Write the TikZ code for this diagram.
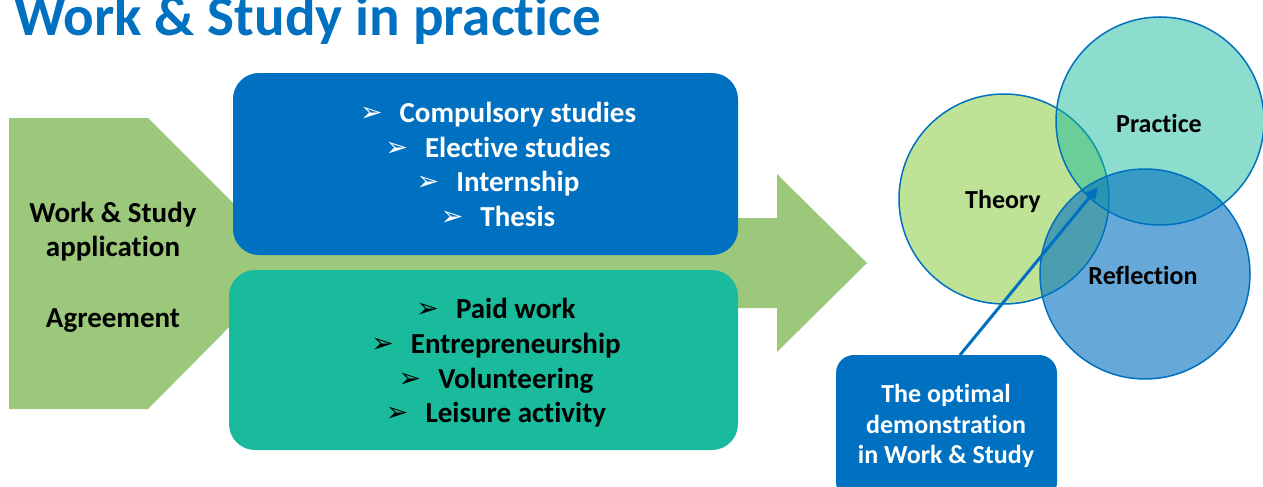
\documentclass[tikz,border=0pt]{standalone}
\usepackage{fontspec}
\setmainfont{Carlito}[Ligatures=NoCommon]
\newfontfamily\djv{DejaVu Sans}
\usetikzlibrary{arrows.meta}
\definecolor{wsblue}{RGB}{0,112,192}
\definecolor{wsteal}{RGB}{26,187,156}
\definecolor{wsgreen}{RGB}{155,200,123}
\definecolor{thgreen}{RGB}{146,208,80}
\tikzset{
  itemtxt/.style={anchor=base,font=\bfseries\fontsize{29}{34}\selectfont,inner sep=0pt},
  lbl/.style={anchor=base,font=\bfseries\fontsize{29}{34}\selectfont,inner sep=0pt},
  clbl/.style={anchor=base,font=\bfseries\fontsize{26}{30}\selectfont,inner sep=0pt},
  circ/.style={draw=wsblue,line width=1.5pt},
}
\newcommand{\blt}{\raisebox{1pt}{\djv\fontsize{27}{27}\selectfont ➢}\hspace{17pt}}
\begin{document}
\begin{tikzpicture}[x=1pt,y=-1pt]
\useasboundingbox (0,0) rectangle (1263,487);
% title
\node[anchor=base west,inner sep=0pt,text=wsblue,font=\bfseries\fontsize{57}{60}\selectfont] (title) at (14,36) {Work \& Study in practice};
% green shape
\fill[wsgreen] (9,118) -- (148,118) -- (248,218) -- (777,218) -- (777,174) -- (867,263)
  -- (777,352) -- (777,308) -- (248,308) -- (148,409) -- (9,409) -- cycle;
% boxes
\fill[wsblue,rounded corners=26pt] (233,73) rectangle (738,255);
\fill[wsteal,rounded corners=26pt] (229,270) rectangle (738,450);
% blue box items
\node[itemtxt,text=white] (b1) at (498,122) {\blt Compulsory studies};
\node[itemtxt,text=white] (b2) at (498,157) {\blt Elective studies};
\node[itemtxt,text=white] (b3) at (498,191) {\blt Internship};
\node[itemtxt,text=white] (b4) at (498,226) {\blt Thesis};
% teal box items
\node[itemtxt] (t1) at (496,318) {\blt Paid work};
\node[itemtxt] (t2) at (496,353) {\blt Entrepreneurship};
\node[itemtxt] (t3) at (496,388) {\blt Volunteering};
\node[itemtxt] (t4) at (496,422) {\blt Leisure activity};
% green texts
\node[lbl] (g1) at (113,222) {Work \& Study};
\node[lbl] (g2) at (113,256) {application};
\node[lbl] (g3) at (113,327) {Agreement};
% circles
\fill[thgreen,fill opacity=0.6] (1004,199) circle (105);
\draw[circ] (1004,199) circle (105);
\fill[wsteal,fill opacity=0.5] (1160,121) circle (104);
\draw[circ] (1160,121) circle (104);
\fill[wsblue,fill opacity=0.6] (1145,274) circle (105);
\draw[circ] (1145,274) circle (105);
\node[clbl] (th) at (1003,208) {Theory};
\node[clbl] (pr) at (1159,132) {Practice};
\node[clbl] (re) at (1143,284) {Reflection};
% callout
\fill[wsblue,rounded corners=18pt] (836,355) rectangle (1057,500);
\node[clbl,text=white] (c1) at (946,402) {The optimal};
\node[clbl,text=white] (c2) at (946,433) {demonstration};
\node[clbl,text=white] (c3) at (946,463) {in Work \& Study};
\coordinate (cs) at (960,355);
\coordinate (ct) at (1098,187);
\draw[wsblue,line width=3pt,-{Triangle[length=12pt,width=11pt]}] (cs) -- (ct);
\end{tikzpicture}
\end{document}
